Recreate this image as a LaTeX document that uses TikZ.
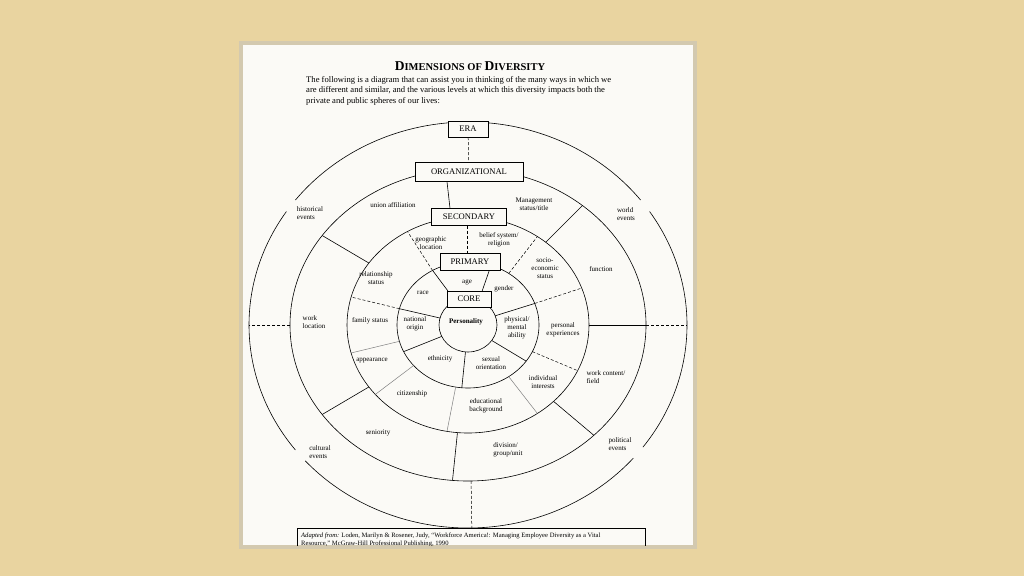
\documentclass[tikz,border=0pt]{standalone}
\usepackage{fontspec}
\setmainfont{Liberation Serif}
\usetikzlibrary{calc}

\definecolor{wallbg}{RGB}{233,212,160}
\definecolor{paper}{RGB}{251,250,246}

\newcommand{\fakesc}[2]{{\fontsize{13.5}{13}\selectfont #1}{\fontsize{10.5}{13}\selectfont #2}}

\begin{document}
\begin{tikzpicture}[
    x=1pt, y=-1pt,
    lbl/.style={font=\fontsize{7}{7.8}\selectfont, align=center, inner sep=0pt},
    lvl/.style={draw, fill=paper, font=\fontsize{8.6}{9}\selectfont, inner sep=0pt},
    ring/.style={line width=0.6pt},
    dotsep/.style={densely dashed, line width=0.5pt},
    graysep/.style={line width=0.5pt, gray}
  ]
  \useasboundingbox (0,0) rectangle (1024,576);
  \fill[wallbg] (0,0) rectangle (1024,576);

  % PAGE
  \fill[black!25, opacity=0.5] (239,41) rectangle (697,549);
  \fill[paper] (243,45) rectangle (693,545);

  % TITLE AND INTRO
  \node[inner sep=0pt] (title) at (470,66)
    {\bfseries\fakesc{D}{IMENSIONS OF }\fakesc{D}{IVERSITY}};
  \node[anchor=north west, align=left, inner sep=0pt,
        font=\fontsize{8.6}{10.4}\selectfont] (intro) at (306,76)
    {The following is a diagram that can assist you in thinking of the many ways in which we\\
     are different and similar, and the various levels at which this diversity impacts both the\\
     private and public spheres of our lives:};

  % RINGS
  \begin{scope}[shift={(468,325)}, yscale=-1]
    \draw[ring] (0,0) ellipse[x radius=29, y radius=27];
    \draw[ring] (0,0) ellipse[x radius=71, y radius=63];
    \draw[ring] (0,0) ellipse[x radius=121, y radius=108];
    \draw[ring] (0,0) ellipse[x radius=178, y radius=156];
    \foreach \s/\e in {38/142, 146/218, 222/319, -37/34}
      \draw[ring] (\s:219 and 203) arc[start angle=\s, end angle=\e, x radius=219, y radius=203];

    % primary ring
    \foreach \a in {20,-35,-95,205,165}
      \draw[ring] (\a:29 and 27) -- (\a:71 and 63);
    % secondary ring
    \foreach \a in {120,55,20,-25,165}
      \draw[dotsep] (\a:71 and 63) -- (\a:121 and 108);
    \foreach \a in {-55,-100,-140,195}
      \draw[graysep] (\a:71 and 63) -- (\a:121 and 108);
    % organizational ring
    \foreach \a in {145,50,0,-45,-95,-145}
      \draw[ring] (\a:121 and 108) -- (\a:178 and 156);
    % era ring
    \foreach \a in {0,180,-89}
      \draw[dotsep] (\a:178 and 156) -- (\a:219 and 203);
  \end{scope}

  % LEVEL BOXES
  \node[lvl, minimum width=40, minimum height=16] (era) at (468,129) {ERA};
  \node[lvl, minimum width=108, minimum height=19] (org) at (469,172) {ORGANIZATIONAL};
  \node[lvl, minimum width=75, minimum height=17] (sec) at (469,217) {SECONDARY};
  \node[lvl, minimum width=60, minimum height=17] (prim) at (470,262) {PRIMARY};
  \node[lvl, minimum width=44, minimum height=16] (core) at (469,299) {CORE};

  \draw[dotsep] (era) -- (org);
  \draw[ring] (org.south) ++(-22,0) coordinate (orgfoot) -- ($(sec.north)+(-19,0)$) coordinate (sechead);
  \draw[dotsep] (sec.south) ++(-2,0) coordinate (secfoot) -- ($(prim.north)+(-3,0)$) coordinate (primhead);
  \draw[ring] (prim.south west) ++(-7,0) coordinate (pl) -- ($(core.north west)+(1,0)$) coordinate (cl);
  \draw[ring] (prim.south east) ++(-11,0) coordinate (pr) -- ($(core.north east)+(-9,0)$) coordinate (cr);

  % ERA LABELS
  \node[lbl, align=left] (hist) at (310,213) {historical\\events};
  \node[lbl, align=left] (world) at (626,214) {world\\events};
  \node[lbl, align=left] (cult) at (320,452) {cultural\\events};
  \node[lbl, align=left] (pol) at (620,444) {political\\events};

  % ORGANIZATIONAL LABELS
  \node[lbl] (union) at (393,205) {union affiliation};
  \node[lbl] (mgmt) at (534,204) {Management\\status/title};
  \node[lbl] (func) at (601,269) {function};
  \node[lbl, align=left] (wcont) at (606,377) {work content/\\field};
  \node[lbl, align=left] (div) at (508,450) {division/\\group/unit};
  \node[lbl] (sen) at (378,433) {seniority};
  \node[lbl, align=left] (wloc) at (314,322) {work\\location};

  % SECONDARY LABELS
  \node[lbl] (geo) at (431,243) {geographic\\location};
  \node[lbl] (belief) at (499,240) {belief system/\\religion};
  \node[lbl] (socio) at (545,268) {socio-\\economic\\status};
  \node[lbl] (pexp) at (563,330) {personal\\experiences};
  \node[lbl] (indiv) at (543,382) {individual\\interests};
  \node[lbl] (edu) at (486,406) {educational\\background};
  \node[lbl] (citz) at (412,394) {citizenship};
  \node[lbl] (appr) at (372,361) {appearance};
  \node[lbl] (fam) at (370,321) {family status};
  \node[lbl] (rel) at (376,278) {relationship\\status};

  % PRIMARY LABELS
  \node[lbl] (age) at (467,282) {age};
  \node[lbl] (gender) at (504,289) {gender};
  \node[lbl] (phys) at (517,328) {physical/\\mental\\ability};
  \node[lbl] (sex) at (491,363) {sexual\\orientation};
  \node[lbl] (eth) at (440,359) {ethnicity};
  \node[lbl] (nat) at (415,324) {national\\origin};
  \node[lbl] (race) at (423,293) {race};
  \node[lbl, font=\fontsize{7}{7}\selectfont\bfseries] (pers) at (466,322) {Personality};

  % SOURCE
  \begin{scope}
    \clip (243,45) rectangle (693,545);
    \draw[line width=0.5pt] (297,528) rectangle (645,560);
    \node[anchor=north west, align=left, inner sep=0pt,
          font=\fontsize{6.6}{8}\selectfont] (src) at (301,533)
      {\textit{Adapted from:} Loden, Marilyn \& Rosener, Judy, ``Workforce America!: Managing Employee Diversity as a Vital\\
       Resource,'' McGraw-Hill Professional Publishing, 1990};
  \end{scope}
\end{tikzpicture}
\end{document}
